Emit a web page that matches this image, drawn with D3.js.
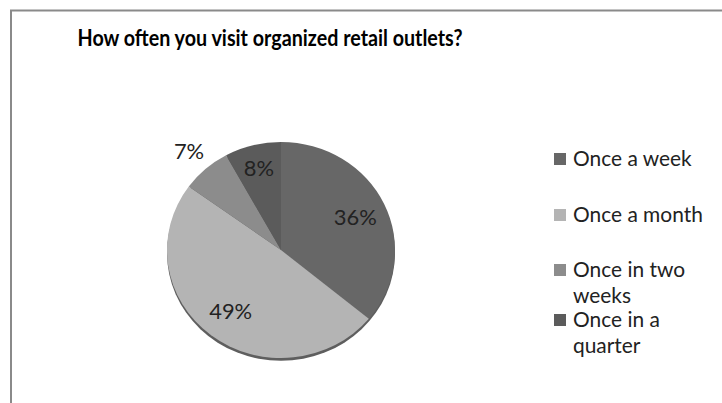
<!DOCTYPE html>
<html><head><meta charset="utf-8">
<script src="https://cdn.jsdelivr.net/npm/d3@7"></script>
<style>html,body{margin:0;padding:0;background:#fff;overflow:hidden}</style>
</head><body>
<svg id="c" width="722" height="403"></svg>
<script>
const title = "How often you visit organized retail outlets?";
const categories = ["Once a week", "Once a month", "Once in two weeks", "Once in a quarter"];
const values = [36, 49, 7, 8];
const colors = ["#676767", "#b4b4b4", "#8c8c8c", "#5b5b5b"];
const legendLines = [["Once a week"], ["Once a month"], ["Once in two", "weeks"], ["Once in a", "quarter"]];

const svg = d3.select("#c");
const FONT = "Lato, 'Open Sans', sans-serif";

function fit(sel, target, base) {
  sel.attr("font-size", base);
  const w = sel.node().getComputedTextLength();
  return base * target / w;
}

// frame
svg.append("rect").attr("x", 11).attr("y", 10.5).attr("width", 760).attr("height", 420)
  .attr("fill", "#fff").attr("stroke", "#8a8a8a").attr("stroke-width", 2);

// title
svg.append("text").attr("x", 270).attr("y", 46).attr("text-anchor", "middle")
  .attr("font-family", FONT).attr("font-weight", "bold").attr("font-size", 22.5)
  .attr("textLength", 385).attr("lengthAdjust", "spacingAndGlyphs")
  .attr("fill", "#000").text(title);

// pie
const cx = 281, cy = 250, rx = 114, ry = 108;
const pie = d3.pie().sort(null).value(d => d)(values);
const arc = d3.arc().innerRadius(0).outerRadius(rx);
const g = svg.append("g").attr("transform", `translate(${cx},${cy}) scale(1,${ry/rx})`);
g.append("ellipse").attr("cx", 0).attr("cy", 3).attr("rx", rx).attr("ry", rx).attr("fill", "#5e5e5e");
g.selectAll("path.s").data(pie).enter().append("path").attr("class", "s")
  .attr("d", arc).attr("fill", (d, i) => colors[i]);

// percent labels
const probe = svg.append("text").attr("font-family", FONT).text("36%");
const labelSize = fit(probe, 43, 18);
probe.remove();
const labelR = [0.72, 0.72, 1.22, 0.78];
pie.forEach((d, i) => {
  const a = (d.startAngle + d.endAngle) / 2;
  const r = rx * labelR[i];
  const x = cx + Math.sin(a) * r;
  const y = cy - Math.cos(a) * r * ry / rx;
  svg.append("text").attr("x", x).attr("y", y).attr("dy", "0.35em").attr("text-anchor", "middle")
    .attr("font-family", FONT).attr("font-size", labelSize).attr("fill", "#222")
    .text(values[i] + "%");
});

// legend
const probe2 = svg.append("text").attr("font-family", FONT).text("Once a month");
const legSize = fit(probe2, 130, 18);
probe2.remove();
const rowY = [159, 215, 270, 320];
legendLines.forEach((lines, i) => {
  svg.append("rect").attr("x", 554).attr("y", rowY[i] - 6).attr("width", 12).attr("height", 12)
    .attr("fill", colors[i]);
  lines.forEach((ln, j) => {
    svg.append("text").attr("x", 573).attr("y", rowY[i] + j * 26).attr("dy", "0.35em")
      .attr("font-family", FONT).attr("font-size", legSize).attr("fill", "#222").text(ln);
  });
});
</script>
</body></html>
